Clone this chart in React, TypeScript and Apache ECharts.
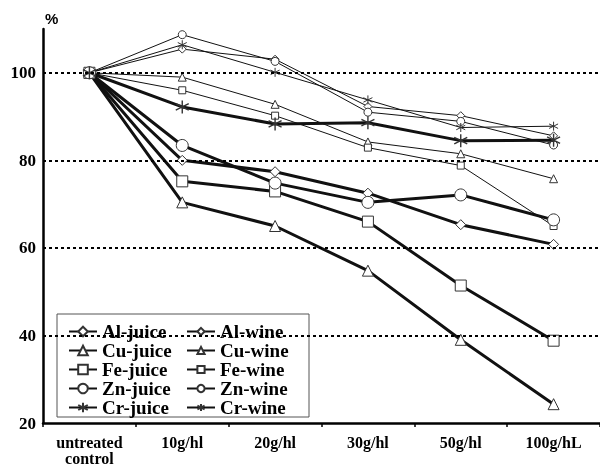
import React, { useEffect, useRef } from "react";
import * as echarts from "echarts";

const categories = ["untreated\ncontrol", "10g/hl", "20g/hl", "30g/hl", "50g/hl", "100g/hL"];
const yTicks = [20, 40, 60, 80, 100];
const gridLines = [40, 60, 80, 100];

const alJuice = [100, 80.0, 77.4, 72.5, 65.3, 60.8];
const cuJuice = [100, 70.4, 65.0, 54.8, 39.0, 24.3];
const feJuice = [100, 75.2, 72.9, 66.0, 51.4, 38.8];
const znJuice = [100, 83.4, 74.8, 70.4, 72.1, 66.4];
const crJuice = [100, 92.2, 88.3, 88.6, 84.5, 84.6];

const alWine = [100, 105.4, 103.1, 92.3, 90.2, 85.6];
const cuWine = [100, 99.0, 92.8, 84.2, 81.5, 75.8];
const feWine = [100, 96.0, 90.2, 82.9, 78.8, 65.0];
const znWine = [100, 108.7, 102.6, 91.0, 88.9, 83.5];
const crWine = [100, 106.4, 100.1, 93.8, 87.5, 87.8];

const juiceNames = ["Al-juice", "Cu-juice", "Fe-juice", "Zn-juice", "Cr-juice"];
const wineNames = ["Al-wine", "Cu-wine", "Fe-wine", "Zn-wine", "Cr-wine"];

const FONT = "'Liberation Serif', 'DejaVu Serif', serif";
const ASTERISK = "path://M5,0L5,10M0.67,2.5L9.33,7.5M0.67,7.5L9.33,2.5";

export default function App() {
  const ref = useRef<HTMLDivElement>(null);

  useEffect(() => {
    if (!ref.current) return;
    const chart = echarts.init(ref.current, undefined, { renderer: "svg" });

    const mk = (
      name: string,
      data: number[],
      symbol: string,
      size: number,
      juice: boolean,
      extra: any = {}
    ) => ({
      name,
      type: "line",
      data,
      symbol,
      symbolSize: size,
      showAllSymbol: true,
      z: juice ? 3 : 2,
      lineStyle: { color: "#111", width: juice ? 3 : 1 },
      itemStyle: {
        color: "#fff",
        borderColor: "#333",
        borderWidth: symbol === ASTERISK ? (juice ? 1.4 : 1) : 1,
      },
      emphasis: { disabled: true },
      ...extra,
    });

    const series: any[] = [
      mk("Al-wine", alWine, "diamond", 8, false, {
        markLine: {
          silent: true,
          symbol: ["none", "none"],
          label: { show: false },
          lineStyle: { color: "#000", type: [3, 3], width: 2 },
          data: gridLines.map((v) => ({ yAxis: v })),
        },
      }),
      mk("Cu-wine", cuWine, "triangle", 8, false),
      mk("Fe-wine", feWine, "rect", 7, false),
      mk("Zn-wine", znWine, "circle", 8, false),
      mk("Cr-wine", crWine, ASTERISK, 9, false),
      mk("Al-juice", alJuice, "diamond", 10, true),
      mk("Cu-juice", cuJuice, "triangle", 11, true),
      mk("Fe-juice", feJuice, "rect", 11, true),
      mk("Zn-juice", znJuice, "circle", 12, true),
      mk("Cr-juice", crJuice, ASTERISK, 13, true),
    ];

    const legendText = {
      color: "#000",
      fontFamily: FONT,
      fontSize: 19,
      fontWeight: "bold",
      lineHeight: 17,
      rich: {
        a: {
          color: "#000",
          fontFamily: FONT,
          fontSize: 19,
          fontWeight: "bold",
          lineHeight: 17,
          height: 17,
        },
      },
    };

    chart.setOption({
      animation: false,
      grid: { left: 43, right: -4, top: 29, bottom: 51 },
      xAxis: {
        type: "category",
        data: categories,
        boundaryGap: true,
        axisLine: { lineStyle: { color: "#000", width: 2.5 } },
        axisTick: { show: true, length: 4, lineStyle: { color: "#000", width: 1.5 } },
        axisLabel: {
          color: "#000",
          fontFamily: FONT,
          fontSize: 16,
          fontWeight: "bold",
          lineHeight: 16,
          margin: 11,
          interval: 0,
        },
        splitLine: { show: false },
      },
      yAxis: {
        type: "value",
        min: 20,
        max: 110,
        interval: 20,
        axisLine: { show: true, lineStyle: { color: "#000", width: 2.5 } },
        axisTick: { show: false },
        splitLine: { show: false },
        axisLabel: {
          color: "#000",
          fontFamily: FONT,
          fontSize: 17,
          fontWeight: "bold",
          margin: 7,
          formatter: (v: number) => (yTicks.includes(v) ? String(v) : ""),
        },
      },
      legend: [
        {
          data: juiceNames,
          orient: "vertical",
          left: 68,
          top: 322,
          itemWidth: 28,
          itemHeight: 12,
          itemGap: 0,
          padding: 0,
          selectedMode: false,
          formatter: "{a|{name}}",
          textStyle: legendText,
          z: 5,
        },
        {
          data: wineNames,
          orient: "vertical",
          left: 186,
          top: 322,
          itemWidth: 28,
          itemHeight: 9,
          itemGap: 0,
          padding: 0,
          selectedMode: false,
          formatter: "{a|{name}}",
          textStyle: legendText,
          z: 5,
        },
      ],
      graphic: [
        {
          type: "rect",
          z: 4,
          shape: { x: 57, y: 314, width: 252, height: 103 },
          style: { fill: "#fff", stroke: "#555", lineWidth: 1 },
        },
        {
          type: "text",
          x: 45,
          y: 11,
          style: {
            text: "%",
            fill: "#000",
            font: "bold 15px 'Liberation Sans', Arial, sans-serif",
          },
        },
      ],
      series,
    });

    return () => chart.dispose();
  }, []);

  return (
    <div
      ref={ref}
      style={{ position: "fixed", left: 0, top: 0, width: 600, height: 474 }}
    />
  );
}
